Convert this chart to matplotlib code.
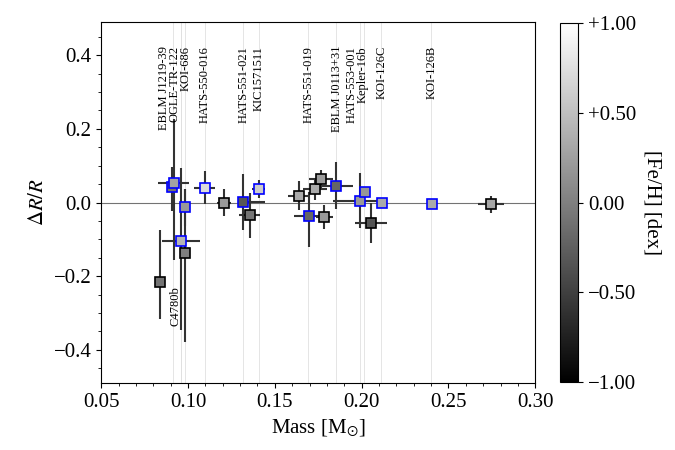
import matplotlib
matplotlib.use("Agg")
import matplotlib.pyplot as plt
import numpy as np

plt.rcParams['font.family'] = ['Liberation Serif', 'DejaVu Serif']
plt.rcParams['mathtext.fontset'] = 'stix'

# mass [Msun], dR/R, x error, lower/upper y error, [Fe/H], labelled object (blue edge)
mass = [0.0840, 0.0907, 0.0917, 0.0984, 0.0959, 0.0980, 0.1097, 0.1209, 0.1316, 0.1354,
        0.1406, 0.1637, 0.1698, 0.1733, 0.1767, 0.1785, 0.1854, 0.1992, 0.2021, 0.2054,
        0.2119, 0.2405, 0.2745]
dr = [-0.216, 0.041, 0.053, -0.013, -0.105, -0.137, 0.040, 0.000, 0.001, -0.035,
      0.037, 0.019, -0.037, 0.037, 0.064, -0.040, 0.046, 0.005, 0.028, -0.055,
      0.000, -0.004, -0.005]
xerr_lo = [0.003, 0.003, 0.009, 0.002, 0.011, 0.002, 0.006, 0.004, 0.003, 0.006,
           0.004, 0.006, 0.009, 0.007, 0.007, 0.005, 0.0095, 0.0155, 0.0, 0.009,
           0.0, 0.0, 0.0076]
xerr_hi = [0.003, 0.003, 0.009, 0.002, 0.011, 0.002, 0.006, 0.004, 0.013, 0.006,
           0.004, 0.006, 0.009, 0.007, 0.007, 0.005, 0.0095, 0.0155, 0.0, 0.009,
           0.0, 0.0, 0.0076]
yerr_lo = [0.100, 0.063, 0.210, 0.050, 0.240, 0.243, 0.045, 0.037, 0.076, 0.062,
           0.025, 0.040, 0.085, 0.030, 0.025, 0.033, 0.065, 0.075, 0.0, 0.055,
           0.0, 0.0, 0.024]
yerr_hi = [0.140, 0.055, 0.175, 0.050, 0.200, 0.175, 0.045, 0.037, 0.076, 0.062,
           0.025, 0.040, 0.065, 0.030, 0.025, 0.033, 0.065, 0.075, 0.0, 0.055,
           0.0, 0.0, 0.024]
feh = [-0.10, -0.10, 0.28, 0.20, 0.42, 0.00, 0.72, 0.20, -0.32, -0.08,
       0.60, 0.33, -0.20, 0.33, 0.22, 0.20, -0.20, 0.20, 0.18, -0.33,
       0.33, 0.33, 0.30]
labelled = [False, True, True, True, True, False, True, False, True, False,
            True, False, True, False, False, False, True, True, True, False,
            True, True, False]

top_names = ['EBLM J1219-39', 'OGLE-TR-122', 'KOI-686', 'HATS-550-016', 'HATS-551-021',
             'KIC1571511', 'HATS-551-019', 'EBLM J0113+31', 'HATS-553-001', 'Kepler-16b',
             'KOI-126C', 'KOI-126B']
top_mass = [0.0913, 0.0958, 0.0981, 0.1096, 0.1316, 0.1406, 0.1692, 0.1854, 0.1992, 0.2015,
            0.2113, 0.2401]
# label text positions, nudged apart where names crowd
top_text_x = [0.0864, 0.0924, 0.0988, 0.1093, 0.1318, 0.1404, 0.1692, 0.1859, 0.1944, 0.2006,
              0.2113, 0.2404]
bottom_names = ['C4780b']
bottom_mass = [0.0959]
bottom_text_x = [0.0926]

fig = plt.figure(figsize=(6.75, 4.5), dpi=100)
ax = fig.add_axes([0.15, 0.149, 0.643, 0.802])
cax = fig.add_axes([0.829, 0.151, 0.028, 0.798])

cmap = plt.get_cmap('gray')
norm = matplotlib.colors.Normalize(vmin=-1, vmax=1)

for m in top_mass + bottom_mass:
    ax.axvline(m, color='0.88', lw=0.6, zorder=0)
ax.axhline(0, color='0.45', lw=0.8, zorder=1)

for i in range(len(mass)):
    ax.errorbar(mass[i], dr[i], xerr=[[xerr_lo[i]], [xerr_hi[i]]],
                yerr=[[yerr_lo[i]], [yerr_hi[i]]], fmt='none', ecolor='0.2',
                elinewidth=1.5, capsize=0, zorder=2)
for i in range(len(mass)):
    ax.plot(mass[i], dr[i], 's', ms=7, mew=1.2, mfc=cmap(norm(feh[i])),
            mec='blue' if labelled[i] else 'black', zorder=3)

for name, x in zip(top_names, top_text_x):
    ax.text(x, 0.425, name, rotation=90, ha='center', va='top', fontsize=9)
for name, x in zip(bottom_names, bottom_text_x):
    ax.text(x, -0.228, name, rotation=90, ha='center', va='top', fontsize=9)

ax.set_xlim(0.05, 0.30)
ax.set_ylim(-0.49, 0.49)
ax.set_xticks([0.05, 0.10, 0.15, 0.20, 0.25, 0.30])
ax.set_xticks(np.arange(0.05, 0.30, 0.01), minor=True)
ax.set_yticks([-0.4, -0.2, 0.0, 0.2, 0.4])
ax.set_yticks(np.arange(-0.45, 0.5, 0.05), minor=True)
ax.tick_params(labelsize=15)
ax.set_xlabel(r'Mass [M$_{\odot}$]', fontsize=15)
ax.set_ylabel(r'$\Delta R/R$', fontsize=15)

sm = matplotlib.cm.ScalarMappable(norm=norm, cmap=cmap)
cb = fig.colorbar(sm, cax=cax)
cb.set_ticks([-1, -0.5, 0, 0.5, 1])
cb.set_ticklabels(['\u22121.00', '\u22120.50', '0.00', '+0.50', '+1.00'])
cb.ax.tick_params(labelsize=15)
cb.set_label('[Fe/H] [dex]', rotation=270, fontsize=15, labelpad=18)

plt.savefig('out.png', dpi=100)
